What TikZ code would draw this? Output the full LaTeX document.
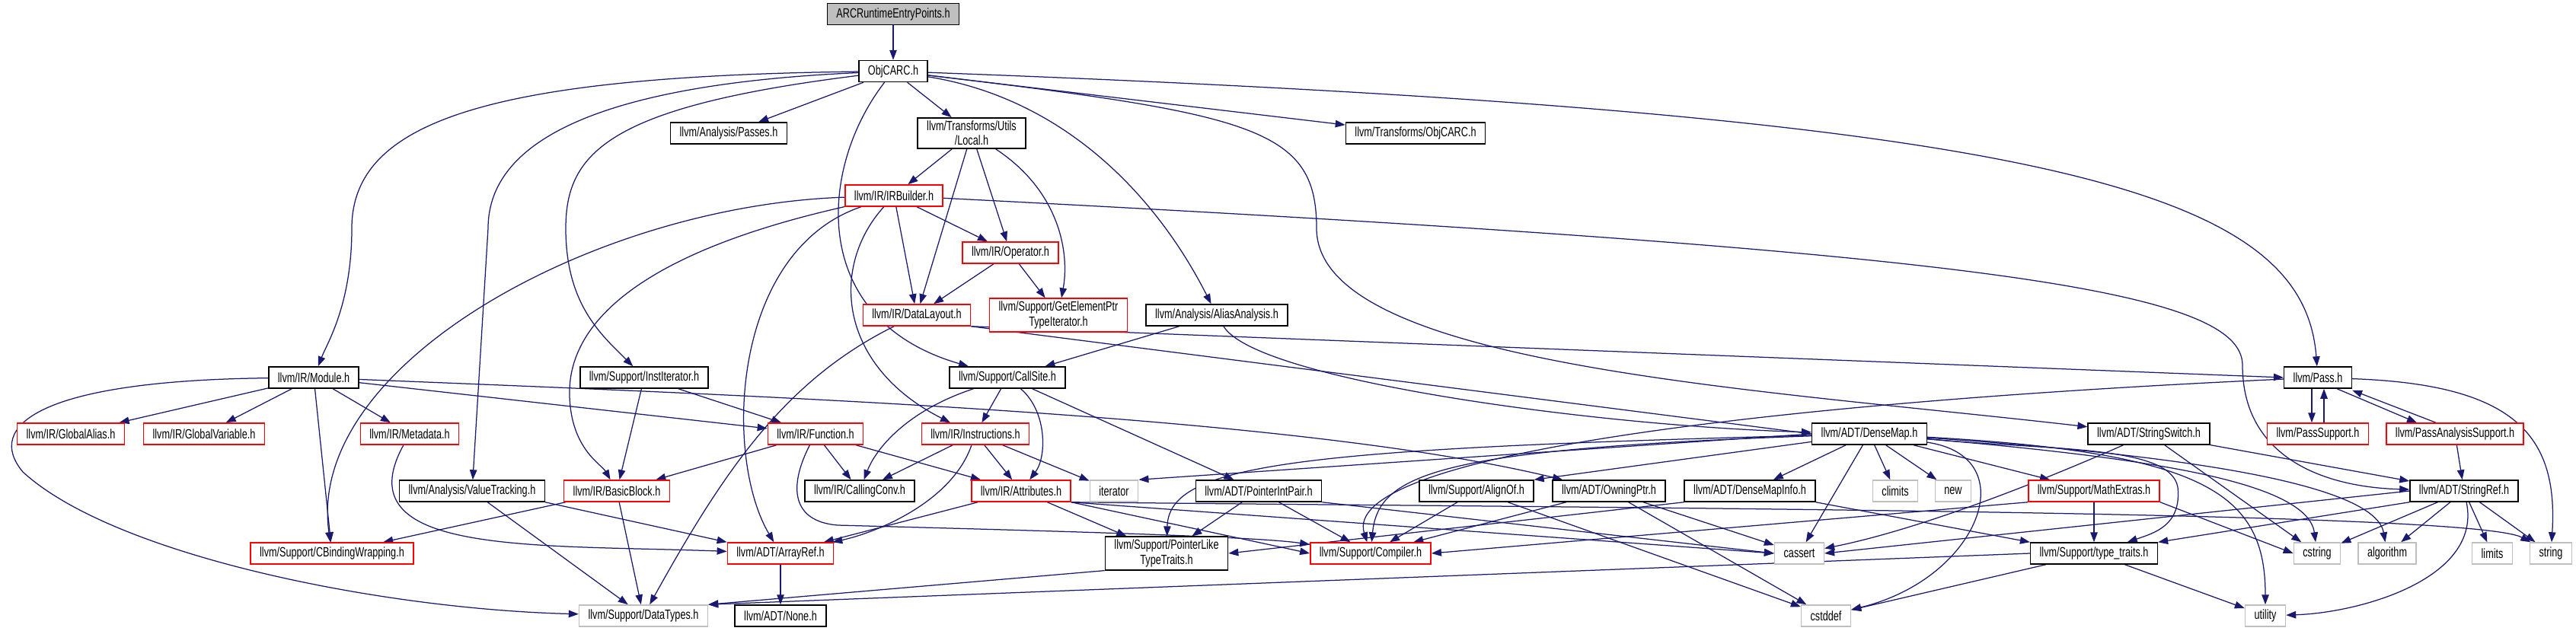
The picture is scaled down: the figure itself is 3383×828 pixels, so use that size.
\documentclass[tikz,border=0pt]{standalone}
\usepackage{fontspec}
\setmainfont{Liberation Sans}[FakeStretch=0.72]
\usepackage{tikz}
\usetikzlibrary{arrows.meta,calc}
\usepackage{xcolor}
\definecolor{edgeblue}{HTML}{191970}
\definecolor{sysgray}{HTML}{BFBFBF}
\pgfdeclarelayer{edgelayer}
\pgfsetlayers{edgelayer,main}

\begin{document}
\begin{tikzpicture}[x=0.2mm,y=-0.2mm,>={Triangle[length=2.6mm,width=1.9mm]},
  hdr/.style={draw=black,fill=white,line width=0.3mm,font=\fontsize{10}{11}\selectfont,align=center,inner xsep=2.4mm,inner ysep=0.8mm,minimum height=5.6mm},
  trunc/.style={hdr,draw=red},
  sys/.style={hdr,draw=sysgray},
  root/.style={hdr,fill=sysgray},
  dep/.style={->,draw=edgeblue,line width=0.25mm}]
\useasboundingbox (0,0) rectangle (3383,828);
\node[root] (arc) at (1173,18.5) {ARCRuntimeEntryPoints.h};
\node[hdr] (objcarc) at (1173,93.5) {ObjCARC.h};
\node[hdr] (passes) at (957,175) {llvm/Analysis/Passes.h};
\node[hdr] (local) at (1276,175) {llvm/Transforms/Utils\\/Local.h};
\node[hdr] (tobjcarc) at (1859,175) {llvm/Transforms/ObjCARC.h};
\node[trunc] (irbuilder) at (1174,257) {llvm/IR/IRBuilder.h};
\node[trunc] (operator) at (1327,332) {llvm/IR/Operator.h};
\node[trunc] (datalayout) at (1204,414) {llvm/IR/DataLayout.h};
\node[trunc] (gep) at (1390,414) {llvm/Support/GetElementPtr\\TypeIterator.h};
\node[hdr] (alias) at (1598,414) {llvm/Analysis/AliasAnalysis.h};
\node[hdr] (module) at (412,496) {llvm/IR/Module.h};
\node[hdr] (institer) at (846,496) {llvm/Support/InstIterator.h};
\node[hdr] (callsite) at (1323,496) {llvm/Support/CallSite.h};
\node[hdr] (pass) at (3044,496) {llvm/Pass.h};
\node[trunc] (galias) at (93,570) {llvm/IR/GlobalAlias.h};
\node[trunc] (gvar) at (268,570) {llvm/IR/GlobalVariable.h};
\node[trunc] (metadata) at (538,570) {llvm/IR/Metadata.h};
\node[trunc] (function) at (1071,570) {llvm/IR/Function.h};
\node[trunc] (instrs) at (1281,570) {llvm/IR/Instructions.h};
\node[hdr] (densemap) at (2455,570) {llvm/ADT/DenseMap.h};
\node[hdr] (strswitch) at (2822,570) {llvm/ADT/StringSwitch.h};
\node[trunc] (passsupport) at (3044,570) {llvm/PassSupport.h};
\node[trunc] (passanalysis) at (3224,570) {llvm/PassAnalysisSupport.h};
\node[hdr] (valuetrack) at (620,645) {llvm/Analysis/ValueTracking.h};
\node[trunc] (basicblock) at (810,645) {llvm/IR/BasicBlock.h};
\node[hdr] (callconv) at (1129,645) {llvm/IR/CallingConv.h};
\node[trunc] (attributes) at (1341,645) {llvm/IR/Attributes.h};
\node[sys] (iterator) at (1463,645) {iterator};
\node[hdr] (ptrintpair) at (1653,645) {llvm/ADT/PointerIntPair.h};
\node[hdr] (alignof) at (1939,645) {llvm/Support/AlignOf.h};
\node[hdr] (owningptr) at (2113,645) {llvm/ADT/OwningPtr.h};
\node[hdr] (densemapinfo) at (2298,645) {llvm/ADT/DenseMapInfo.h};
\node[sys] (climits) at (2489,645) {climits};
\node[sys] (cnew) at (2565,645) {new};
\node[trunc] (mathextras) at (2750,645) {llvm/Support/MathExtras.h};
\node[hdr] (stringref) at (3236,645) {llvm/ADT/StringRef.h};
\node[trunc] (cbinding) at (436,727) {llvm/Support/CBindingWrapping.h};
\node[trunc] (arrayref) at (1025,727) {llvm/ADT/ArrayRef.h};
\node[hdr] (ptrlike) at (1532,727) {llvm/Support/PointerLike\\TypeTraits.h};
\node[trunc] (compiler) at (1800,727) {llvm/Support/Compiler.h};
\node[sys] (cassert) at (2363,727) {cassert};
\node[hdr] (typetraits) at (2750,727) {llvm/Support/type\_traits.h};
\node[sys] (cstring) at (3043,727) {cstring};
\node[sys] (algorithm) at (3135,727) {algorithm};
\node[sys] (limits) at (3273,727) {limits};
\node[sys] (string) at (3350,727) {string};
\node[sys] (datatypes) at (845,809) {llvm/Support/DataTypes.h};
\node[hdr] (none) at (1025,809) {llvm/ADT/None.h};
\node[sys] (cstddef) at (2398,809) {cstddef};
\node[sys] (utility) at (2975,809) {utility};

\begin{pgfonlayer}{edgelayer}
\draw[dep] (arc) -- (objcarc);
% ObjCARC.h
\draw[dep] (objcarc) .. controls (640,100) and (462,160) .. (462,300) .. controls (462,400) and (430,450) .. (module);
\draw[dep] (objcarc) .. controls (800,110) and (641,180) .. (641,300) -- (valuetrack);
\draw[dep] (objcarc) .. controls (800,140) and (743,200) .. (743,300) .. controls (743,400) and (790,440) .. (institer);
\draw[dep] (objcarc) -- (passes);
\draw[dep] (objcarc) .. controls (1075,220) and (1060,420) .. (callsite);
\draw[dep] (objcarc) -- (local);
\draw[dep] (objcarc) .. controls (1400,130) and (1520,260) .. (alias);
\draw[dep] (objcarc) -- (tobjcarc);
\draw[dep] (objcarc) .. controls (1650,150) and (1729,170) .. (1729,300) .. controls (1729,480) and (2300,510) .. (strswitch);
\draw[dep] (objcarc) .. controls (2700,150) and (3025,250) .. (pass);
% Local.h, IRBuilder.h, Operator.h
\draw[dep] (local) -- (irbuilder);
\draw[dep] (local) -- (datalayout);
\draw[dep] (local) -- (operator);
\draw[dep] (local) .. controls (1390,250) and (1405,330) .. (gep);
\draw[dep] (irbuilder) .. controls (780,270) and (400,480) .. (cbinding);
\draw[dep] (irbuilder) .. controls (850,330) and (745,420) .. (748,520) .. controls (750,590) and (790,610) .. (basicblock);
\draw[dep] (irbuilder) .. controls (960,330) and (950,600) .. (arrayref);
\draw[dep] (irbuilder) .. controls (1090,350) and (1100,480) .. ($(instrs.north)+(-33,0)$);
\draw[dep] (irbuilder) -- (datalayout);
\draw[dep] (irbuilder) -- (operator);
\draw[dep] (irbuilder) .. controls (2600,330) and (2945,380) .. (2945,480) .. controls (2945,600) and (3050,640) .. (stringref);
\draw[dep] (operator) -- (datalayout);
\draw[dep] (operator) -- (gep);
% DataLayout.h, AliasAnalysis.h
\draw[dep] (datalayout) .. controls (1030,500) and (950,620) .. (datatypes);
\draw[dep] (datalayout.south east) -- (pass.west);
\draw[dep] (datalayout.south east) -- (densemap.west);
\draw[dep] (alias) -- (callsite);
\draw[dep] (alias) .. controls (1650,500) and (2100,560) .. (densemap);
% Module.h, InstIterator.h, CallSite.h
\draw[dep] (module) -- (galias);
\draw[dep] (module) -- (gvar);
\draw[dep] (module) -- (cbinding);
\draw[dep] (module) -- (metadata);
\draw[dep] (module) -- (function);
\draw[dep] (module) .. controls (1000,520) and (1700,545) .. (owningptr);
\draw[dep] (module) .. controls (50,500) and (-20,560) .. (30,620) .. controls (150,730) and (500,800) .. (datatypes);
\draw[dep] (institer) -- (basicblock);
\draw[dep] (institer) -- (function);
\draw[dep] (callsite) .. controls (1190,540) and (1150,590) .. (callconv);
\draw[dep] (callsite) -- (instrs);
\draw[dep] (callsite) .. controls (1375,540) and (1375,600) .. (attributes);
\draw[dep] (callsite) -- (ptrintpair);
% Pass.h
\draw[dep] ($(pass.south)+(-8,0)$) -- ($(passsupport.north)+(-8,0)$);
\draw[dep] ($(passsupport.north)+(8,0)$) -- ($(pass.south)+(8,0)$);
\draw[dep] ($(pass.south east)+(-20,0)$) -- ($(passanalysis.north)+(-50,0)$);
\draw[dep] ($(passanalysis.north)+(-25,0)$) -- ($(pass.south east)+(0,2)$);
\draw[dep] (pass) .. controls (3300,505) and (3360,570) .. (string);
\draw[dep] (pass) .. controls (2300,530) and (1760,600) .. (compiler);
\draw[dep] (passanalysis) -- (stringref);
% row of Function.h
\draw[dep] (metadata) .. controls (450,730) and (700,715) .. (arrayref);
\draw[dep] (function) -- (basicblock);
\draw[dep] (function) -- (callconv);
\draw[dep] (function) -- (attributes);
\draw[dep] (function) .. controls (1035,640) and (1040,685) .. (1100,690) .. controls (1400,698) and (1650,705) .. (compiler);
\draw[dep] (instrs) -- (callconv);
\draw[dep] (instrs) .. controls (1250,660) and (1150,700) .. (arrayref);
\draw[dep] (instrs) -- (attributes);
\draw[dep] (instrs) -- (iterator);
% row of Attributes.h
\draw[dep] (valuetrack) -- (datatypes);
\draw[dep] (valuetrack.south east) -- (arrayref.north west);
\draw[dep] (basicblock) -- (cbinding);
\draw[dep] (basicblock) -- (datatypes);
\draw[dep] (attributes) -- (arrayref);
\draw[dep] (attributes) -- (ptrlike);
\draw[dep] (attributes.south east) -- (compiler.west);
\draw[dep] (attributes.south east) -- (cassert.west);
\draw[dep] (attributes.south east) .. controls (2200,668) and (3250,672) .. (string);
\draw[dep] (ptrintpair) -- (ptrlike);
\draw[dep] (ptrintpair) -- (compiler);
\draw[dep] (ptrintpair.south east) -- (cassert.west);
\draw[dep] (ptrlike.south west) -- (datatypes.north east);
\draw[dep] (arrayref) -- (none);
% DenseMap.h
\draw[dep] (densemap) -- (densemapinfo);
\draw[dep] (densemap) -- (alignof.north east);
\draw[dep] (densemap) .. controls (1900,590) and (1810,620) .. (compiler);
\draw[dep] (densemap) -- (mathextras);
\draw[dep] (densemap) .. controls (1700,590) and (1535,610) .. (ptrlike);
\draw[dep] (densemap) .. controls (2700,592) and (2850,585) .. (2860,640) .. controls (2865,690) and (2830,700) .. (typetraits);
\draw[dep] (densemap) .. controls (2900,600) and (3120,640) .. (algorithm);
\draw[dep] (densemap) -- (cassert);
\draw[dep] (densemap) -- (climits);
\draw[dep] (densemap) .. controls (2660,600) and (2600,760) .. (cstddef);
\draw[dep] (densemap) .. controls (2800,600) and (3030,630) .. (cstring);
\draw[dep] (densemap.west) -- (iterator.north east);
\draw[dep] (densemap) -- (cnew);
\draw[dep] (densemap) .. controls (2900,595) and (2975,650) .. (utility);
% support headers
\draw[dep] (alignof) -- (compiler);
\draw[dep] (alignof) -- (cstddef);
\draw[dep] (owningptr) -- (compiler);
\draw[dep] (owningptr) -- (cassert);
\draw[dep] (owningptr) -- (cstddef);
\draw[dep] (densemapinfo.south west) -- (ptrlike.east);
\draw[dep] (densemapinfo.south east) -- (typetraits.north west);
\draw[dep] (mathextras) -- (typetraits);
\draw[dep] (mathextras.south east) -- (cstring.west);
\draw[dep] (mathextras.south west) -- (compiler.east);
\draw[dep] (strswitch) -- (stringref);
\draw[dep] (strswitch) -- (cstring);
\draw[dep] (strswitch) .. controls (2640,650) and (2500,700) .. (cassert);
\draw[dep] (stringref.south west) -- (typetraits.north east);
\draw[dep] (stringref) -- (algorithm);
\draw[dep] (stringref.west) -- (cassert.east);
\draw[dep] (stringref) -- (cstring);
\draw[dep] (stringref) -- (limits);
\draw[dep] (stringref) -- (string);
\draw[dep] (stringref) .. controls (3260,760) and (3100,805) .. (utility);
\draw[dep] (typetraits.west) -- (datatypes.north east);
\draw[dep] (typetraits) -- (cstddef);
\draw[dep] (typetraits) -- (utility);
\end{pgfonlayer}
\end{tikzpicture}
\end{document}
